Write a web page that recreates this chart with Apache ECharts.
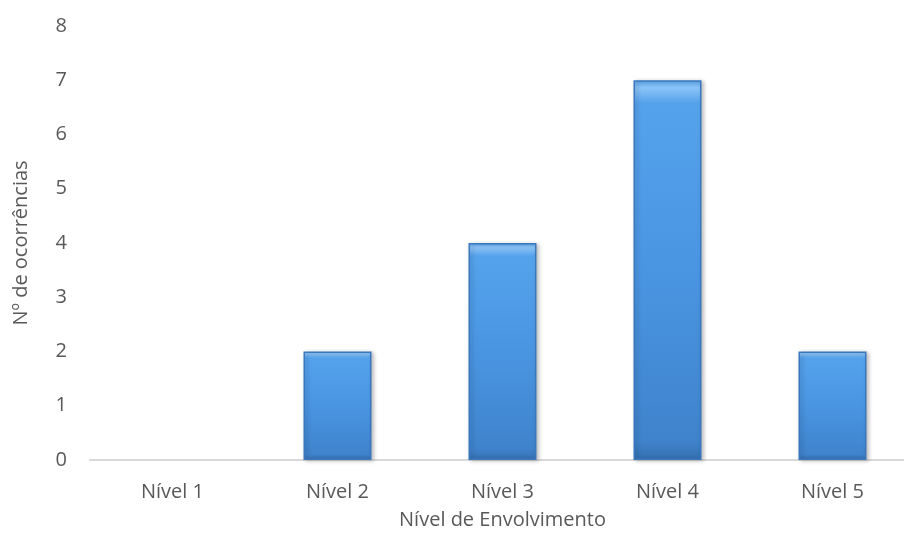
<!DOCTYPE html>
<html><head><meta charset="utf-8">
<script src="https://cdn.jsdelivr.net/npm/echarts@6/dist/echarts.min.js"></script>
<style>html,body{margin:0;padding:0;background:#fff}#c{width:904px;height:540px}</style>
</head><body><div id="c"></div>
<script>
const categories = ["Nível 1", "Nível 2", "Nível 3", "Nível 4", "Nível 5"];
const values = [0, 2, 4, 7, 2];
const yTicks = {min: 0, max: 8, interval: 1};
const xTitle = "Nível de Envolvimento";
const yTitle = "Nº de ocorrências";

const font = "'Open Sans', Calibri, sans-serif";
const chart = echarts.init(document.getElementById('c'), null, {renderer: 'canvas'});
const barData = values.map(v => v === 0 ? {value: v, itemStyle: {borderWidth: 0, opacity: 0}} : v);
chart.setOption({
  animation: false,
  grid: {left: 90, top: 26, width: 825, bottom: 80, containLabel: false, outerBoundsMode: 'none'},
  xAxis: {
    type: 'category', data: categories,
    name: xTitle, nameLocation: 'middle', nameGap: 50,
    nameTextStyle: {color: '#595959', fontSize: 20, fontFamily: font},
    axisLine: {lineStyle: {color: '#d9d9d9', width: 2}},
    axisTick: {show: false},
    axisLabel: {color: '#595959', fontSize: 20, fontFamily: font, margin: 22}
  },
  yAxis: {
    type: 'value', min: yTicks.min, max: yTicks.max, interval: yTicks.interval,
    name: yTitle, nameLocation: 'middle', nameGap: 59, nameRotate: 90,
    nameTextStyle: {color: '#595959', fontSize: 20, fontFamily: font},
    axisLine: {show: false}, axisTick: {show: false}, splitLine: {show: false},
    axisLabel: {color: '#595959', fontSize: 20, fontFamily: font, margin: 23}
  },
  series: [{
    type: 'bar', data: barData, barWidth: 68,
    itemStyle: {
      color: new echarts.graphic.LinearGradient(0, 0, 0, 1, [
        {offset: 0, color: '#5eaaf2'},
        {offset: 0.02, color: '#8cc4f7'},
        {offset: 0.06, color: '#55a2ec'},
        {offset: 0.5, color: '#4a95e2'},
        {offset: 0.95, color: '#3f83cc'},
        {offset: 1, color: '#356fae'}
      ]),
      borderColor: '#3a78bd', borderWidth: 1.5,
      shadowColor: 'rgba(0,0,0,0.25)', shadowBlur: 4, shadowOffsetX: 2, shadowOffsetY: 1
    }
  }]
});
</script></body></html>
